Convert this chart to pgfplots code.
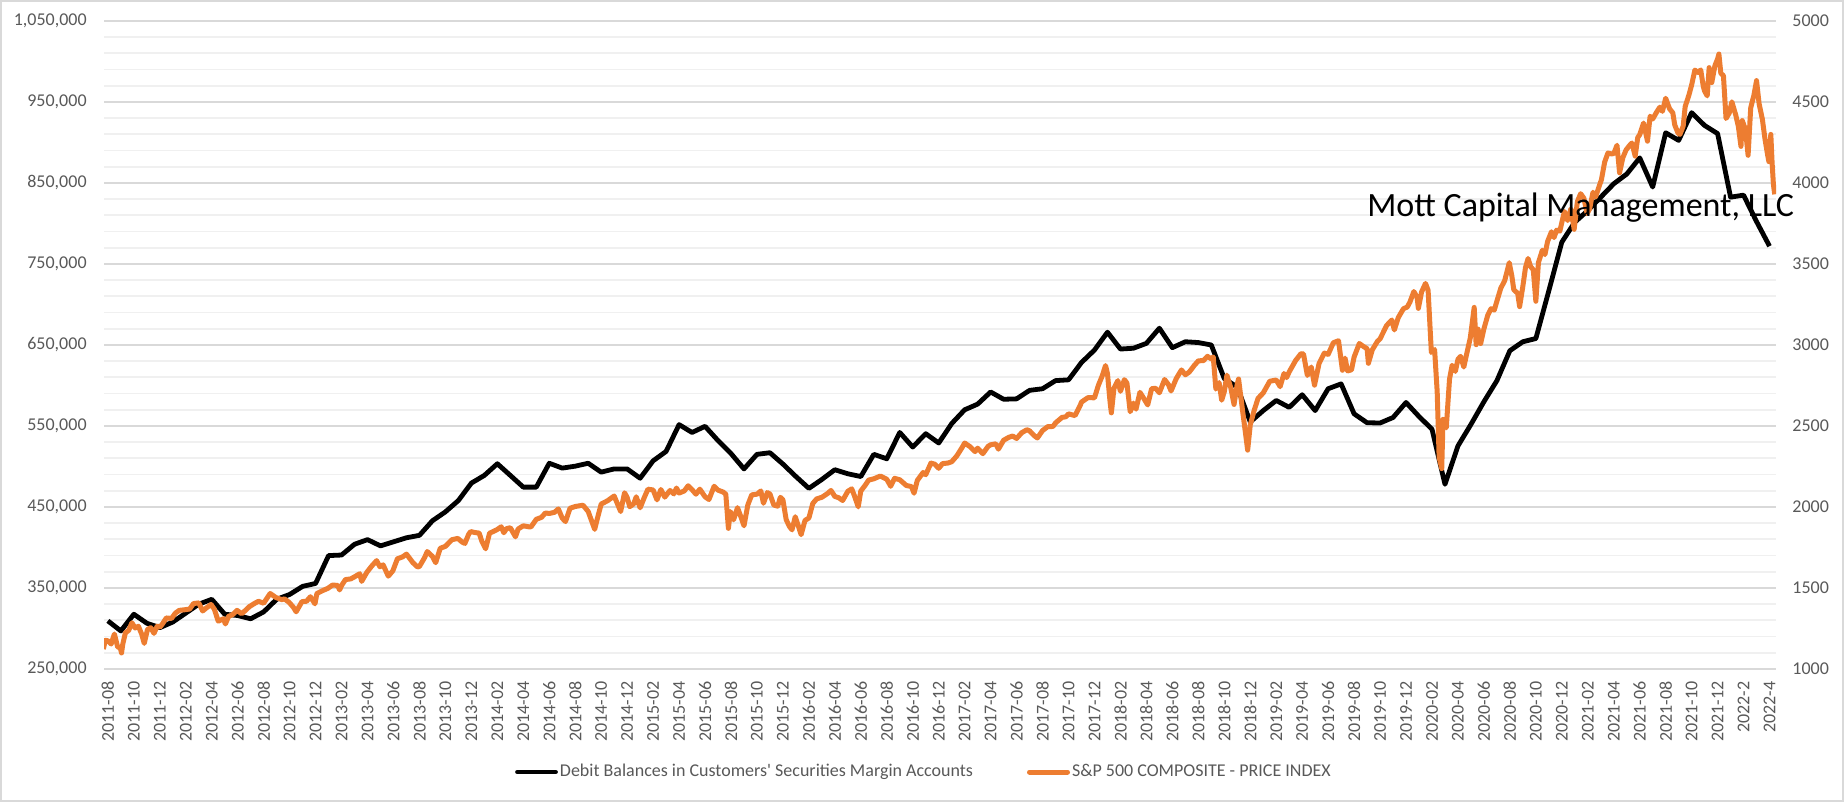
\documentclass[border=0pt]{standalone}
\usepackage{pgfplots}
\pgfplotsset{compat=1.18}
\usepackage{fontspec}
\setmainfont{Carlito}
\definecolor{xlorange}{HTML}{ED7D31}
\definecolor{tickgray}{HTML}{595959}
\definecolor{gridmaj}{HTML}{D9D9D9}
\definecolor{gridmin}{HTML}{F0F0F0}
\begin{document}
\begin{tikzpicture}
\useasboundingbox (0,0) rectangle (922pt,401pt);
\fill[white] (0,0) rectangle (922pt,401pt);
\draw[gridmaj, line width=1pt] (0.5pt,0.5pt) rectangle (921.5pt,400.5pt);
\begin{axis}[
  at={(52pt,66.5pt)}, anchor=south west, width=836pt, height=324pt, scale only axis,
  xmin=-0.3, xmax=128.5, ymin=250000, ymax=1050000,
  scaled y ticks=false,
  axis line style={draw=none},
  ytick={250000,350000,450000,550000,650000,750000,850000,950000,1050000},
  yticklabels={{250,000},{350,000},{450,000},{550,000},{650,000},{750,000},{850,000},{950,000},{1,050,000}},
  minor y tick num=4,
  ymajorgrids, yminorgrids,
  major grid style={gridmaj, line width=0.9pt},
  minor grid style={gridmin, line width=0.9pt},
  major tick length=0pt, minor tick length=0pt,
  xtick={0,2,...,128},
  xticklabels={2011-08,2011-10,2011-12,
    2012-02,2012-04,2012-06,2012-08,2012-10,2012-12,
    2013-02,2013-04,2013-06,2013-08,2013-10,2013-12,
    2014-02,2014-04,2014-06,2014-08,2014-10,2014-12,
    2015-02,2015-04,2015-06,2015-08,2015-10,2015-12,
    2016-02,2016-04,2016-06,2016-08,2016-10,2016-12,
    2017-02,2017-04,2017-06,2017-08,2017-10,2017-12,
    2018-02,2018-04,2018-06,2018-08,2018-10,2018-12,
    2019-02,2019-04,2019-06,2019-08,2019-10,2019-12,
    2020-02,2020-04,2020-06,2020-08,2020-10,2020-12,
    2021-02,2021-04,2021-06,2021-08,2021-10,2021-12,
    2022-2,2022-4},
  xticklabel style={rotate=90, anchor=east, inner sep=0pt, font=\fontsize{9}{10}\selectfont, text=tickgray},
  xticklabel shift=6pt,
  yticklabel style={anchor=east, inner sep=0pt, font=\fontsize{9}{10}\selectfont, text=tickgray},
  yticklabel shift=8.5pt,
]
\addplot[black, line width=2.4pt, line join=round, no markers] coordinates {
(0,309400)(1,297000)(2,317600)(3,306500)(4,301000)(5,308000)(6,319000)(7,330000)
(8,336000)(9,317600)(10,316000)(11,312000)(12,320500)(13,336000)(14,342000)(15,352000)
(16,355600)(17,390000)(18,390700)(19,404000)(20,409700)(21,402000)(22,407000)(23,412000)
(24,415000)(25,433000)(26,444000)(27,458000)(28,479500)(29,489000)(30,503400)(31,489000)
(32,474500)(33,474500)(34,504000)(35,498000)(36,500400)(37,504000)(38,493000)(39,497000)
(40,497000)(41,485500)(42,507000)(43,518600)(44,551700)(45,542000)(46,549600)(47,532000)
(48,516000)(49,497000)(50,515000)(51,517000)(52,503000)(53,487600)(54,473000)(55,484000)
(56,496000)(57,491000)(58,487600)(59,515000)(60,509500)(61,542000)(62,524000)(63,540500)
(64,529000)(65,553000)(66,570000)(67,577000)(68,592000)(69,583000)(70,583500)(71,594000)
(72,596000)(73,606000)(74,607000)(75,628400)(76,643800)(77,665800)(78,645000)(79,646000)
(80,652000)(81,670700)(82,646700)(83,654000)(84,653000)(85,650000)(86,608500)(87,598000)
(88,555000)(89,569000)(90,581500)(91,573000)(92,588600)(93,569000)(94,596000)(95,602000)
(96,565000)(97,554000)(98,553700)(99,560500)(100,579000)(101,561700)(102,546000)(103,478000)
(104,525400)(105,552000)(106,580000)(107,606000)(108,643000)(109,654000)(110,658000)(111,717000)
(112,777000)(113,801600)(114,816000)(115,832500)(116,849000)(117,861000)(118,881000)(119,845000)
(120,912000)(121,902600)(122,936800)(123,921000)(124,911000)(125,832500)(126,835000)(127,802400)
(128,772000)
};
\end{axis}
\begin{axis}[
  at={(52pt,66.5pt)}, anchor=south west, width=836pt, height=324pt, scale only axis,
  xmin=-0.3, xmax=128.5, ymin=1000, ymax=5000,
  axis x line=none, axis y line*=right,
  axis line style={draw=none},
  ytick={1000,1500,2000,2500,3000,3500,4000,4500,5000},
  yticklabels={1000,1500,2000,2500,3000,3500,4000,4500,5000},
  major tick length=0pt,
  yticklabel style={anchor=west, inner sep=0pt, font=\fontsize{9}{10}\selectfont, text=tickgray},
  yticklabel shift=8pt,
  legend style={at={(0.4904,-0.159)}, anchor=center, draw=none, fill=none,
    font=\fontsize{9}{10}\selectfont, text=tickgray, inner sep=0pt,
    nodes={inner sep=1pt},
    /tikz/every even column/.append style={column sep=26pt}},
  legend columns=2,
  legend image code/.code={\draw[#1, line cap=round] (0pt,0pt) -- (19pt,0pt);},
]
\addlegendimage{black, line width=2.4pt}
\addlegendentry{Debit Balances in Customers\textquotesingle\ Securities Margin Accounts}
\addplot[xlorange, line width=2.5pt, line join=round, no markers] coordinates {
(-0.35,1123)(-0.2,1177)(0.0,1174)(0.25,1154)(0.5,1216)(0.75,1136)(0.95,1131)(1.05,1099)
(1.15,1155)(1.35,1224)(1.6,1238)(1.85,1285)(2.1,1253)(2.35,1264)(2.6,1216)(2.8,1158)
(3.05,1244)(3.3,1255)(3.55,1220)(3.8,1265)(4.0,1258)(4.2,1278)(4.5,1315)(4.9,1312)
(5.2,1345)(5.5,1362)(5.95,1366)(6.3,1370)(6.6,1404)(7.0,1408)(7.3,1358)(7.6,1378)
(7.95,1398)(8.2,1369)(8.5,1295)(8.9,1310)(9.05,1278)(9.3,1325)(9.6,1335)(9.95,1362)
(10.3,1341)(10.6,1362)(10.9,1385)(11.3,1405)(11.6,1418)(12.0,1406)(12.5,1466)(12.95,1441)
(13.4,1428)(13.6,1433)(13.95,1412)(14.3,1380)(14.5,1353)(14.95,1416)(15.3,1418)(15.6,1446)
(15.95,1402)(16.1,1466)(16.6,1486)(16.95,1498)(17.3,1518)(17.7,1516)(17.85,1488)(18.0,1515)
(18.3,1552)(18.7,1556)(19.0,1569)(19.4,1588)(19.55,1541)(19.95,1597)(20.3,1633)(20.7,1669)
(20.95,1631)(21.2,1643)(21.6,1573)(21.95,1606)(22.3,1680)(22.7,1692)(23.0,1709)(23.5,1656)
(23.85,1630)(24.0,1633)(24.4,1688)(24.6,1725)(25.0,1695)(25.25,1656)(25.6,1745)(26.0,1757)
(26.5,1798)(26.95,1806)(27.3,1783)(27.5,1775)(27.8,1833)(27.95,1848)(28.3,1842)(28.6,1839)
(28.8,1790)(29.1,1742)(29.4,1838)(29.95,1859)(30.3,1878)(30.5,1841)(30.7,1866)(31.0,1872)
(31.4,1816)(31.6,1864)(32.0,1884)(32.4,1878)(32.6,1878)(33.0,1924)(33.4,1936)(33.7,1963)
(34.0,1960)(34.4,1967)(34.7,1988)(35.0,1931)(35.25,1910)(35.6,1992)(36.0,2003)(36.6,2011)
(37.0,1972)(37.5,1862)(37.7,1927)(38.0,2018)(38.5,2039)(39.0,2068)(39.5,1972)(39.8,2088)
(40.0,2059)(40.2,2002)(40.5,2019)(40.7,2063)(41.0,1995)(41.3,2055)(41.6,2110)(42.0,2105)
(42.3,2044)(42.6,2108)(42.9,2061)(43.3,2102)(43.6,2081)(43.8,2117)(44.0,2086)(44.4,2099)
(44.7,2131)(45.0,2107)(45.3,2079)(45.6,2110)(46.0,2063)(46.3,2046)(46.7,2128)(47.0,2104)
(47.4,2092)(47.6,2079)(47.8,1868)(47.95,1972)(48.2,1921)(48.5,1996)(48.8,1931)(49.0,1884)
(49.3,2014)(49.6,2075)(50.0,2079)(50.3,2099)(50.5,2023)(50.8,2089)(51.0,2080)(51.3,2012)
(51.6,2005)(51.8,2060)(52.0,2044)(52.25,1922)(52.5,1880)(52.7,1859)(52.95,1940)(53.2,1880)
(53.4,1829)(53.7,1917)(54.0,1932)(54.3,2022)(54.6,2050)(55.0,2060)(55.4,2081)(55.7,2102)
(56.0,2065)(56.3,2057)(56.6,2040)(57.0,2097)(57.3,2112)(57.5,2071)(57.8,2001)(58.0,2099)
(58.3,2130)(58.6,2166)(59.0,2174)(59.5,2191)(60.0,2171)(60.3,2128)(60.6,2177)(61.0,2168)
(61.5,2133)(61.9,2126)(62.1,2085)(62.35,2164)(62.8,2213)(63.0,2199)(63.4,2271)(63.7,2264)
(64.0,2239)(64.3,2268)(64.7,2271)(65.0,2279)(65.4,2316)(65.8,2367)(66.0,2395)(66.4,2373)
(66.8,2342)(67.0,2363)(67.4,2329)(67.8,2374)(68.0,2384)(68.4,2390)(68.6,2357)(69.0,2412)
(69.4,2430)(69.7,2438)(70.0,2423)(70.4,2459)(70.8,2477)(71.0,2470)(71.35,2441)(71.6,2426)
(72.0,2472)(72.4,2496)(72.8,2497)(73.0,2519)(73.5,2553)(73.8,2557)(74.0,2575)(74.5,2564)
(74.9,2627)(75.0,2648)(75.5,2675)(76.0,2674)(76.3,2751)(76.6,2810)(76.85,2873)(77.0,2824)
(77.2,2649)(77.3,2581)(77.5,2732)(77.8,2780)(78.0,2714)(78.3,2786)(78.5,2765)(78.75,2588)
(79.0,2641)(79.2,2604)(79.5,2708)(79.8,2670)(80.1,2630)(80.4,2730)(80.7,2733)(81.0,2705)
(81.4,2787)(81.7,2755)(81.9,2716)(82.3,2793)(82.7,2846)(83.0,2816)(83.3,2833)(83.7,2875)
(84.0,2902)(84.4,2904)(84.7,2930)(85.0,2914)(85.15,2926)(85.35,2728)(85.6,2768)(85.8,2659)
(86.0,2712)(86.2,2814)(86.5,2736)(86.75,2633)(87.0,2760)(87.1,2790)(87.4,2600)(87.8,2351)
(88.0,2507)(88.3,2596)(88.6,2671)(89.0,2704)(89.5,2776)(90.0,2784)(90.3,2743)(90.6,2824)
(90.8,2799)(91.0,2834)(91.5,2905)(91.9,2946)(92.1,2945)(92.4,2812)(92.7,2864)(92.95,2752)
(93.3,2886)(93.7,2950)(94.0,2942)(94.4,3014)(94.8,3026)(95.1,2844)(95.3,2919)(95.5,2840)
(95.8,2847)(96.0,2926)(96.4,3009)(96.7,2992)(97.0,2977)(97.1,2887)(97.4,2970)(97.8,3023)
(98.0,3038)(98.5,3120)(98.9,3154)(99.1,3093)(99.4,3169)(99.8,3224)(100.0,3231)(100.1,3235)
(100.3,3265)(100.6,3330)(100.85,3295)(100.95,3226)(101.2,3328)(101.5,3380)(101.7,3338)(101.95,2954)
(102.2,2972)(102.4,2711)(102.55,2305)(102.75,2237)(102.85,2541)(103.1,2489)(103.35,2790)(103.55,2875)
(103.8,2837)(104.0,2912)(104.2,2930)(104.45,2864)(104.7,2955)(104.95,3044)(105.25,3232)(105.4,3002)
(105.55,3098)(105.75,3009)(106.0,3100)(106.3,3185)(106.55,3224)(106.8,3216)(107.0,3271)(107.3,3351)
(107.6,3397)(107.95,3508)(108.15,3427)(108.3,3341)(108.6,3319)(108.75,3237)(109.0,3363)(109.2,3477)
(109.4,3534)(109.6,3483)(109.8,3465)(110.0,3270)(110.2,3509)(110.5,3585)(110.7,3558)(110.9,3638)(111.2,3699)
(111.4,3663)(111.6,3709)(111.85,3703)(112.0,3756)(112.2,3824)(112.45,3768)(112.7,3841)(112.95,3714)
(113.2,3886)(113.45,3934)(113.7,3906)(113.95,3811)(114.15,3842)(114.4,3943)(114.6,3913)(114.85,3974)
(115.05,4020)(115.3,4129)(115.55,4185)(115.8,4180)(116.0,4181)(116.25,4233)(116.45,4063)(116.7,4156)
(116.95,4204)(117.2,4230)(117.4,4247)(117.65,4166)(117.85,4281)(118.0,4298)(118.3,4370)(118.6,4258)
(118.8,4412)(119.0,4395)(119.3,4437)(119.55,4468)(119.75,4442)(120.0,4523)(120.3,4458)(120.55,4433)
(120.7,4358)(120.95,4308)(121.1,4300)(121.35,4351)(121.5,4471)(121.8,4545)(122.0,4605)(122.25,4697)
(122.5,4682)(122.7,4698)(122.9,4595)(123.0,4567)(123.2,4538)(123.35,4712)(123.55,4620)(123.8,4726)
(124.0,4766)(124.1,4796)(124.25,4677)(124.45,4663)(124.65,4398)(124.9,4432)(125.1,4501)(125.4,4419)
(125.6,4349)(125.8,4226)(125.9,4385)(126.15,4329)(126.35,4171)(126.55,4463)(126.8,4543)(127.0,4632)
(127.2,4488)(127.45,4393)(127.65,4272)(127.85,4175)(127.95,4132)(128.1,4300)(128.2,4123)(128.3,3991)
(128.4,3930)
};
\addlegendentry{S\&P 500 COMPOSITE - PRICE INDEX}
\end{axis}
\node[anchor=base west, font=\fontsize{17}{20}\selectfont, inner sep=0pt] at (683.5pt,292.5pt) {Mott Capital Management, LLC};
\end{tikzpicture}
\end{document}
